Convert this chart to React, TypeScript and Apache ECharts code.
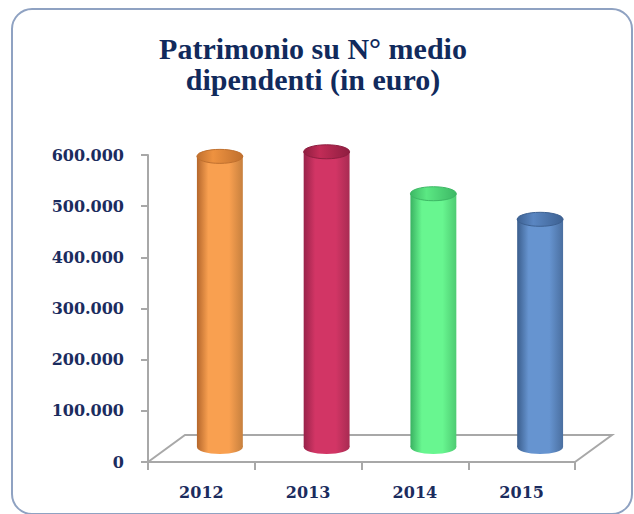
import React, { useEffect, useRef } from "react";
import * as echarts from "echarts";

const CATEGORIES = ["2012", "2013", "2014", "2015"];
const VALUES = [568000, 577000, 495000, 445000];
const Y_TICKS_MAX = 600000;
const Y_TICK_STEP = 100000;
const TITLE = "Patrimonio su N° medio\ndipendenti (in euro)";

// colours per bar: [edgeDark, main, edgeRight, cap, rim]
const PALETTE = [
  ["#B5672C", "#F9A050", "#C7803E", "#EE9240", "#C0702E"],
  ["#98234A", "#D23565", "#A82B52", "#C22C57", "#8E1E40"],
  ["#3AB262", "#68F690", "#4ECB72", "#5BE883", "#3DB865"],
  ["#3B5E8D", "#6694D0", "#4A6FA0", "#5A86C2", "#3D6192"],
];

const W = 634;
const H = 514;
const AX_LEFT = 148;
const AX_RIGHT = 575;
const AX_TOP = 155;
const AX_BOTTOM = 462;
const DEPTH_X = 37;
const DEPTH_Y = 27;

const fmt = (v: number) => String(v).replace(/\B(?=(\d{3})+(?!\d))/g, ".");

export default function App() {
  const ref = useRef<HTMLDivElement>(null);
  useEffect(() => {
    if (!ref.current) return;
    const chart = echarts.init(ref.current, undefined, { renderer: "svg" });
    const midX = DEPTH_X / 2;
    const midY = DEPTH_Y / 2 + 1.5;
    const axisColor = "#A8A8A8";
    const labelFont = {
      fontFamily: "'DejaVu Serif', serif",
      fontWeight: "bold" as const,
      fontSize: 16,
      color: "#1B2C5E",
    };
    const option: any = {
      animation: false,
      backgroundColor: "#ffffff",
      grid: [
        {
          left: AX_LEFT,
          right: W - AX_RIGHT,
          top: AX_TOP,
          bottom: H - AX_BOTTOM,
        },
        {
          left: AX_LEFT + midX,
          right: W - AX_RIGHT - midX,
          top: AX_TOP - midY,
          bottom: H - AX_BOTTOM + midY,
        },
      ],
      xAxis: [
        {
          type: "category",
          gridIndex: 0,
          data: CATEGORIES,
          boundaryGap: true,
          axisLine: { show: true, lineStyle: { color: axisColor, width: 2 } },
          axisTick: { show: true, length: 8, interval: 0, lineStyle: { color: axisColor, width: 2 } },
          axisLabel: { ...labelFont, margin: 22 },
          splitLine: { show: false },
        },
        {
          type: "category",
          gridIndex: 1,
          data: CATEGORIES,
          show: false,
        },
      ],
      yAxis: [
        {
          type: "value",
          gridIndex: 0,
          min: 0,
          max: Y_TICKS_MAX,
          interval: Y_TICK_STEP,
          axisLine: { show: true, lineStyle: { color: axisColor, width: 2 } },
          axisTick: { show: true, length: 7, lineStyle: { color: axisColor, width: 2 } },
          axisLabel: { ...labelFont, margin: 24, formatter: (v: number) => fmt(v) },
          splitLine: { show: false },
        },
        {
          type: "value",
          gridIndex: 1,
          min: 0,
          max: Y_TICKS_MAX,
          show: false,
          splitLine: { show: false },
        },
      ],
      graphic: [
        {
          type: "rect",
          z: -10,
          shape: { x: 12, y: 9, width: 620, height: 505, r: 20 },
          style: { fill: "none", stroke: "#8FA2C2", lineWidth: 2 },
        },
        {
          type: "polyline",
          z: -5,
          shape: {
            points: [
              [AX_LEFT, AX_BOTTOM],
              [AX_LEFT + DEPTH_X, AX_BOTTOM - DEPTH_Y],
              [AX_RIGHT + DEPTH_X, AX_BOTTOM - DEPTH_Y],
              [AX_RIGHT, AX_BOTTOM],
            ],
          },
          style: { fill: "none", stroke: axisColor, lineWidth: 2 },
        },
        {
          type: "text",
          x: 313,
          y: 64,
          style: {
            text: TITLE,
            font: "bold 30px 'Liberation Serif', 'Times New Roman', serif",
            lineHeight: 31,
            fill: "#112A5C",
            align: "center",
            verticalAlign: "middle",
          },
        },
      ],
      series: [
        {
          type: "custom",
          xAxisIndex: 1,
          yAxisIndex: 1,
          z: 5,
          data: CATEGORIES.map((c, i) => [i, VALUES[i]]),
          encode: { x: 0, y: 1 },
          renderItem: (params: any, api: any) => {
            const xi = api.value(0);
            const top = api.coord([xi, api.value(1)]);
            const base = api.coord([xi, 0]);
            const bw = api.size([1, 0])[0] * 0.43;
            const rx = bw / 2;
            const ry = 7;
            const p = PALETTE[params.dataIndex % PALETTE.length];
            const body = new echarts.graphic.LinearGradient(0, 0, 1, 0, [
              { offset: 0, color: p[0] },
              { offset: 0.25, color: p[1] },
              { offset: 0.7, color: p[1] },
              { offset: 1, color: p[2] },
            ]);
            const cap = new echarts.graphic.LinearGradient(0, 0, 1, 0, [
              { offset: 0, color: p[4] },
              { offset: 0.35, color: p[3] },
              { offset: 1, color: p[4] },
            ]);
            return {
              type: "group",
              children: [
                {
                  type: "ellipse",
                  shape: { cx: base[0], cy: base[1], rx, ry },
                  style: { fill: body },
                },
                {
                  type: "rect",
                  shape: { x: base[0] - rx, y: top[1], width: bw, height: base[1] - top[1] },
                  style: { fill: body },
                },
                {
                  type: "ellipse",
                  shape: { cx: top[0], cy: top[1], rx, ry },
                  style: { fill: cap, stroke: p[4], lineWidth: 1 },
                },
              ],
            };
          },
        },
      ],
    };
    chart.setOption(option);
    return () => chart.dispose();
  }, []);
  return (
    <div
      ref={ref}
      style={{ position: "absolute", left: 0, top: 0, width: W, height: H }}
    />
  );
}
